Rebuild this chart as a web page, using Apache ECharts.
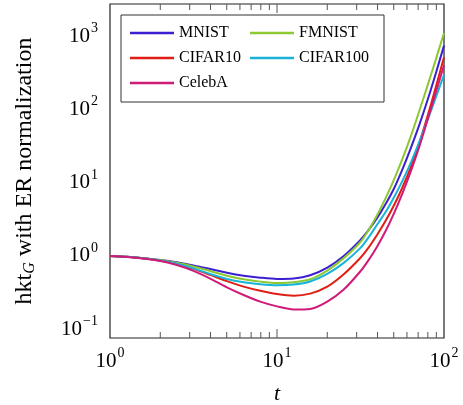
<!DOCTYPE html>
<html>
<head>
<meta charset="utf-8">
<script src="https://cdn.jsdelivr.net/npm/echarts@6/dist/echarts.min.js"></script>
<style>
  html, body { margin: 0; padding: 0; background: #fff; }
  #chart { width: 463px; height: 405px; }
</style>
</head>
<body>
<div id="chart"></div>
<script>
// t values (log x axis)
var tVals = [1, 1.26, 1.58, 2, 2.51, 3.16, 3.98, 5.01, 6.31, 7.94, 10, 12.6, 15.8, 20, 25.1, 31.6,
             35.5, 39.8, 44.7, 50.1, 56.2, 63.1, 70.8, 79.4, 89.1, 100];

// hkt_G with ER normalization
var mnist    = [1.0, 0.973, 0.933, 0.881, 0.817, 0.741, 0.661, 0.589, 0.537, 0.504, 0.485, 0.492, 0.543, 0.692, 1.0, 1.66,
                2.29, 3.31, 5.13, 8.32, 15.1, 29.5, 60.3, 132, 309, 759];
var fmnist   = [1.0, 0.973, 0.933, 0.879, 0.805, 0.718, 0.622, 0.537, 0.479, 0.445, 0.427, 0.437, 0.479, 0.631, 0.933, 1.55,
                2.29, 3.63, 6.17, 11.0, 20.9, 42.7, 93.3, 209, 479, 1122];
var cifar10  = [1.0, 0.971, 0.927, 0.863, 0.776, 0.664, 0.550, 0.452, 0.380, 0.333, 0.301, 0.286, 0.305, 0.380, 0.562, 0.944,
                1.32, 1.95, 3.02, 4.90, 8.51, 16.2, 33.9, 79.4, 200, 525];
var cifar100 = [1.0, 0.973, 0.931, 0.869, 0.782, 0.675, 0.566, 0.484, 0.436, 0.409, 0.396, 0.406, 0.447, 0.569, 0.804, 1.29,
                1.82, 2.69, 3.98, 6.31, 10.5, 18.6, 35.5, 70.8, 145, 302];
var celeba   = [1.0, 0.968, 0.920, 0.851, 0.750, 0.624, 0.490, 0.372, 0.292, 0.237, 0.204, 0.185, 0.188, 0.237, 0.347, 0.617,
                0.891, 1.35, 2.19, 3.80, 7.08, 14.1, 30.2, 70.8, 170, 407];

// x axis ticks (pgfplots style, drawn inward top and bottom)
var minorTicks = [2, 3, 4, 5, 6, 7, 8, 9, 20, 30, 40, 50, 60, 70, 80, 90];
var majorTicks = [10];

var FONT = 'Liberation Serif';

var chart = echarts.init(document.getElementById('chart'));

function pair(ys) {
    return tVals.map(function (t, i) { return [t, ys[i]]; });
}

// "10^n" label through rich text
function powLabel(v) {
    var l = Math.log10(v);
    var n = Math.round(l);
    if (Math.abs(l - n) > 1e-6) return '';
    var e = n < 0 ? '\u2212' + (-n) : '' + n;
    return '{b|10}{e|' + e + '}';
}

var labelRich = {
    b: { fontFamily: FONT, fontSize: 21, color: '#000' },
    e: { fontFamily: FONT, fontSize: 14, color: '#000', padding: [0, 0, 16, 1] }
};

function lineSeries(name, ys, color) {
    return {
        name: name,
        type: 'line',
        data: pair(ys),
        smooth: 0.3,
        showSymbol: false,
        symbol: 'none',
        lineStyle: { width: 2, color: color },
        itemStyle: { color: color },
        z: 3
    };
}

function tickSeries(vals, len) {
    return {
        type: 'custom',
        silent: true,
        data: vals.map(function (v) { return [v, 1]; }),
        encode: { x: 0, y: 1 },
        z: 4,
        renderItem: function (params, api) {
            var x = api.coord([api.value(0), 1])[0];
            var cs = params.coordSys;
            var st = { stroke: '#555', lineWidth: 1 };
            return {
                type: 'group',
                children: [
                    { type: 'line', shape: { x1: x, y1: cs.y + cs.height, x2: x, y2: cs.y + cs.height - len }, style: st },
                    { type: 'line', shape: { x1: x, y1: cs.y, x2: x, y2: cs.y + len }, style: st }
                ]
            };
        }
    };
}

var legendBase = {
    orient: 'vertical',
    top: 25,
    padding: 0,
    itemGap: 9,
    itemWidth: 44,
    itemHeight: 2.5,
    itemTextGap: 7,
    icon: 'rect',
    selectedMode: false,
    textStyle: { fontFamily: FONT, fontSize: 16, color: '#000' },
    z: 10
};

var option = {
    animation: false,
    backgroundColor: '#fff',
    grid: {
        left: 110, right: 19, top: 4, bottom: 67,
        show: true, borderColor: '#222', borderWidth: 1.2,
        containLabel: false,
        outerBoundsMode: 'none'
    },
    graphic: [{
        type: 'rect',
        shape: { x: 121, y: 15, width: 263, height: 87 },
        style: { fill: '#fff', stroke: '#333', lineWidth: 1 },
        z: 5
    }],
    legend: [
        Object.assign({}, legendBase, { left: 130, data: ['MNIST', 'CIFAR10', 'CelebA'] }),
        Object.assign({}, legendBase, { left: 250, data: ['FMNIST', 'CIFAR100'] })
    ],
    xAxis: {
        type: 'log',
        logBase: 10,
        min: 1,
        max: 100,
        axisLine: { show: false },
        axisTick: { show: false },
        splitLine: { show: false },
        axisLabel: { margin: 8, formatter: powLabel, rich: labelRich },
        name: 't',
        nameLocation: 'middle',
        nameGap: 45,
        nameTextStyle: { fontFamily: FONT, fontSize: 22, fontStyle: 'italic', color: '#000' }
    },
    yAxis: {
        type: 'log',
        logBase: 10,
        min: 0.0753,
        max: 2805,
        axisLine: { show: false },
        axisTick: { show: false },
        splitLine: { show: false },
        axisLabel: { margin: 12, formatter: powLabel, rich: labelRich },
        name: '{a|hkt}{s|G}{a| with ER normalization}',
        nameLocation: 'middle',
        nameGap: 72,
        nameTextStyle: {
            rich: {
                a: { fontFamily: FONT, fontSize: 24, color: '#000' },
                s: { fontFamily: FONT, fontSize: 16, fontStyle: 'italic', color: '#000', padding: [11, 0, 0, 0] }
            }
        }
    },
    series: [
        lineSeries('MNIST', mnist, '#3b1fd1'),
        lineSeries('FMNIST', fmnist, '#8cc832'),
        lineSeries('CIFAR10', cifar10, '#e01f14'),
        lineSeries('CIFAR100', cifar100, '#18b4d8'),
        lineSeries('CelebA', celeba, '#d01a78'),
        tickSeries(minorTicks, 6),
        tickSeries(majorTicks, 9)
    ]
};

chart.setOption(option);
</script>
</body>
</html>
